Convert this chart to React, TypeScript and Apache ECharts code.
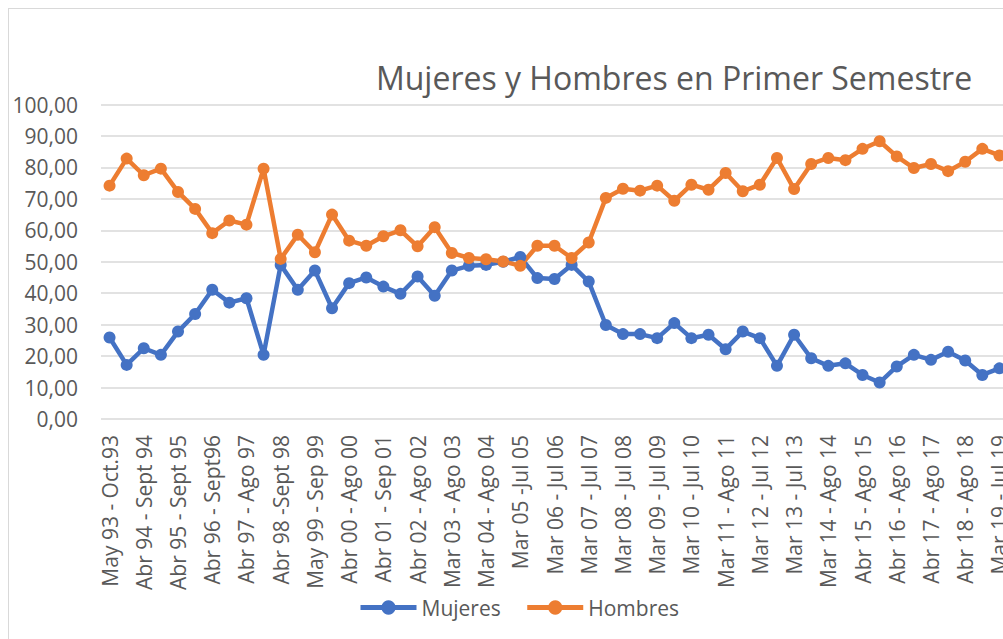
import React, { useEffect, useRef } from "react";
import * as echarts from "echarts";

const categories: string[] = [
  "May 93 - Oct.93", "Nov 93 - Mar 94", "Abr 94 - Sept 94", "Oct 94 - Mar 95",
  "Abr 95 - Sept 95", "Oct 95 - Mar 96", "Abr 96 - Sept96", "Oct 96 - Mar 97",
  "Abr 97 - Ago 97", "Sept 97 - Mar 98", "Abr 98 -Sept 98", "Oct 98 - Abr 99",
  "May 99 - Sep 99", "Oct 99 - Mar 00", "Abr 00 - Ago 00", "Sep 00 - Mar 01",
  "Abr 01 - Sep 01", "Oct 01 - Mar 02", "Abr 02 - Ago 02", "Sep 02 - Feb 03",
  "Mar 03 - Ago 03", "Sep 03 - Feb 04", "Mar 04 - Ago 04", "Sep 04 - Feb 05",
  "Mar 05 -Jul 05", "Ago 05 - Feb 06", "Mar 06 - Jul 06", "Ago 06 - Feb 07",
  "Mar 07 - Jul 07", "Ago 07 - Feb 08", "Mar 08 - Jul 08", "Ago 08 - Feb 09",
  "Mar 09 - Jul 09", "Ago 09 - Feb 10", "Mar 10 - Jul 10", "Ago 10 - Feb 11",
  "Mar 11 - Ago 11", "Sep 11 - Feb 12", "Mar 12 - Jul 12", "Ago 12 - Feb 13",
  "Mar 13 - Jul 13", "Ago 13 - Feb 14", "Mar 14 - Ago 14", "Sep 14 - Mar 15",
  "Abr 15 - Ago 15", "Sep 15 - Mar 16", "Abr 16 - Ago 16", "Sep 16 - Mar 17",
  "Abr 17 - Ago 17", "Sep 17 - Mar 18", "Abr 18 - Ago 18", "Sep 18 - Feb 19",
  "Mar 19 - Jul 19",
];

const mujeres: number[] = [
  25.9, 17.2, 22.5, 20.4, 27.8, 33.4, 41.1, 37.0, 38.4, 20.4,
  49.0, 41.1, 47.2, 35.2, 43.2, 45.0, 42.1, 39.8, 45.3, 39.2,
  47.2, 48.7, 49.0, 50.0, 51.5, 44.8, 44.5, 49.0, 43.7, 29.9,
  27.0, 27.0, 25.7, 30.5, 25.7, 26.8, 22.2, 27.8, 25.7, 16.9,
  26.8, 19.3, 16.9, 17.7, 14.0, 11.6, 16.7, 20.4, 18.8, 21.4,
  18.6, 14.0, 16.1,
];

const hombres: number[] = [
  74.2, 82.8, 77.5, 79.6, 72.2, 66.8, 59.1, 63.1, 61.8, 79.6,
  50.9, 58.6, 53.0, 65.0, 56.7, 55.1, 58.1, 60.0, 54.9, 61.0,
  52.8, 51.2, 50.8, 50.1, 48.7, 55.1, 55.1, 51.2, 56.1, 70.3,
  73.2, 72.6, 74.2, 69.4, 74.5, 72.9, 78.2, 72.4, 74.5, 83.0,
  73.1, 81.1, 83.0, 82.3, 85.9, 88.3, 83.5, 79.8, 81.1, 78.8,
  81.8, 85.9, 83.8,
];

const titleText = "Mujeres y Hombres en Primer Semestre";
const FONT = "'Open Sans', 'Noto Sans', sans-serif";
const TEXT_COLOR = "#595959";
const GRID_COLOR = "#D9D9D9";

export default function App() {
  const ref = useRef<HTMLDivElement>(null);

  useEffect(() => {
    if (!ref.current) return;
    const chart = echarts.init(ref.current, undefined, { renderer: "svg" });
    chart.setOption({
      animation: false,
      backgroundColor: "#ffffff",
      title: {
        text: titleText,
        left: 665,
        top: 52,
        textAlign: "center",
        padding: 0,
        textStyle: {
          fontFamily: FONT,
          fontSize: 32,
          fontWeight: "normal",
          color: TEXT_COLOR,
        },
      },
      legend: {
        data: ["Mujeres", "Hombres"],
        left: 349,
        top: 588,
        padding: 0,
        itemWidth: 56,
        itemHeight: 18,
        itemGap: 24,
        lineStyle: { width: 5 },
        textStyle: { fontFamily: FONT, fontSize: 21, color: TEXT_COLOR },
      },
      grid: {
        left: 92,
        top: 95.5,
        width: 907,
        height: 314.5,
        containLabel: false,
        outerBoundsMode: "none",
      },
      xAxis: {
        type: "category",
        data: categories,
        boundaryGap: true,
        axisLine: { show: false },
        axisTick: { show: false },
        splitLine: { show: false },
        axisLabel: {
          rotate: 90,
          interval: 1,
          margin: 16,
          fontFamily: FONT,
          fontSize: 21,
          color: TEXT_COLOR,
        },
      },
      yAxis: {
        type: "value",
        min: 0,
        max: 100,
        interval: 10,
        axisLine: { show: false },
        axisTick: { show: false },
        splitLine: { lineStyle: { color: GRID_COLOR, width: 1.5 } },
        axisLabel: {
          margin: 23,
          fontFamily: FONT,
          fontSize: 21,
          color: TEXT_COLOR,
          formatter: (v: number) => v.toFixed(2).replace(".", ","),
        },
      },
      series: [
        {
          name: "Mujeres",
          type: "line",
          data: mujeres,
          symbol: "circle",
          symbolSize: 12,
          showAllSymbol: true,
          color: "#4472C4",
          lineStyle: { width: 4.5, color: "#4472C4" },
          itemStyle: { color: "#4472C4" },
        },
        {
          name: "Hombres",
          type: "line",
          data: hombres,
          symbol: "circle",
          symbolSize: 12,
          showAllSymbol: true,
          color: "#ED7D31",
          lineStyle: { width: 4.5, color: "#ED7D31" },
          itemStyle: { color: "#ED7D31" },
        },
      ],
    });
    return () => chart.dispose();
  }, []);

  return (
    <div
      style={{
        position: "fixed",
        left: 8,
        top: 8,
        width: 995,
        height: 631,
        overflow: "hidden",
        borderLeft: "1px solid #D9D9D9",
        borderTop: "1px solid #D9D9D9",
        background: "#ffffff",
      }}
    >
      <div ref={ref} style={{ width: 1100, height: 650 }} />
    </div>
  );
}
